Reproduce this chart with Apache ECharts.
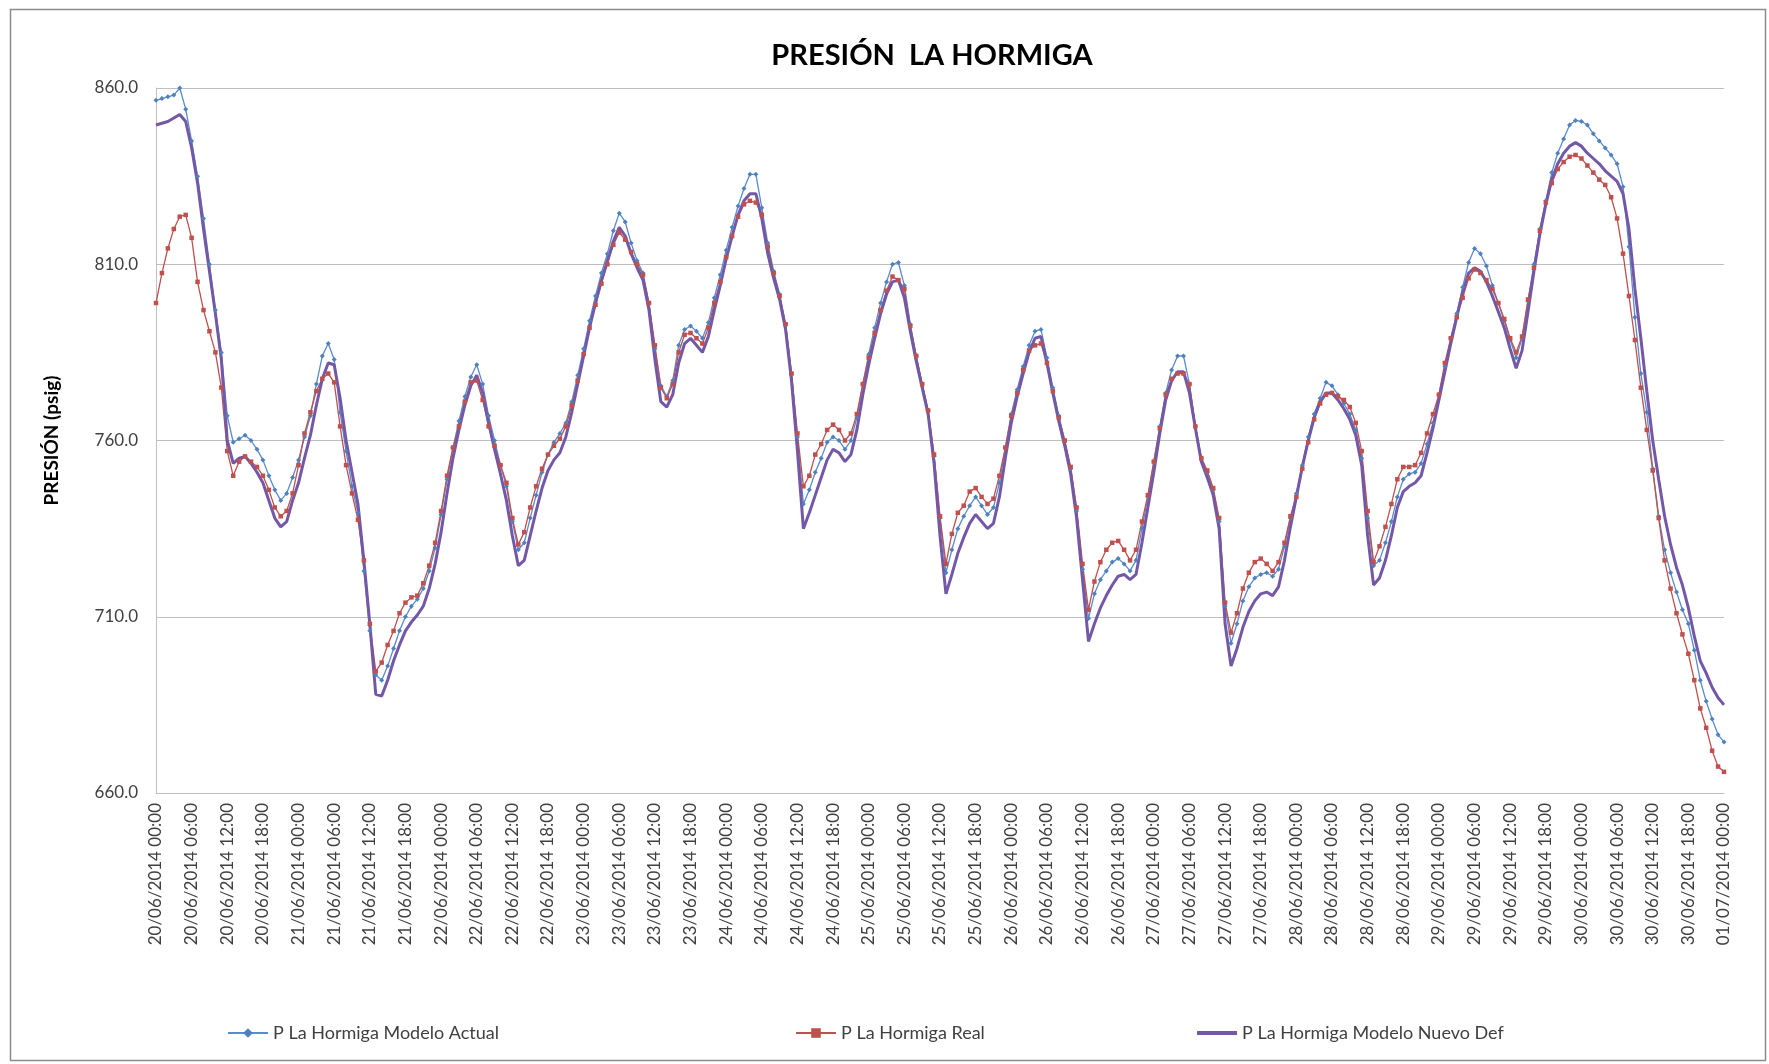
<!DOCTYPE html>
<html>
<head>
<meta charset="utf-8">
<script src="https://cdn.jsdelivr.net/npm/echarts@6/dist/echarts.min.js"></script>
<style>
html,body{margin:0;padding:0;background:#fff;}
#chart{width:1769px;height:1064px;}
</style>
</head>
<body>
<div id="chart"></div>
<script>
// Hourly readings 20/06/2014 00:00 .. 01/07/2014 00:00 (265 points)
const modeloActual = [
  856.5, 857, 857.5, 858, 860, 854, 845, 835, 823, 810, 797, 785, 767, 759.5, 760.5, 761.5, 760, 757.5, 754.5, 750, 746, 743, 745, 749.5,
  754.5, 761, 767, 776, 784, 787.5, 783, 768, 757, 747, 739.5, 723, 706, 693.5, 692, 696, 701, 706, 710, 713, 715, 718, 723, 729.5,
  739, 749, 758, 765.5, 772.5, 778, 781.5, 776, 767, 760, 753, 747, 737, 729, 731, 738, 744.5, 751, 756, 759.5, 762, 765, 771, 778.5,
  786, 794, 801, 807.5, 813, 819.5, 824.5, 822, 816, 811, 807.5, 799, 786, 775.5, 772.5, 777, 787, 791.5, 792.5, 791, 789, 793.5, 800.5, 807,
  814, 820.5, 826.5, 831.5, 835.5, 835.5, 826, 816, 808, 801.5, 793, 779, 761, 742, 746, 751, 755, 759.5, 761, 760, 757.5, 760, 766.5, 776,
  784.5, 792, 799, 805, 810, 810.5, 804, 793, 784, 776, 768.5, 755.5, 738, 722.5, 729, 735, 738.5, 741.5, 744, 741.5, 739, 741, 748, 758,
  767.5, 774.5, 781, 787, 791, 791.5, 783.5, 775, 767, 760, 752, 740, 723.5, 709.5, 716.5, 720.5, 723, 725.5, 726.5, 725, 723, 726, 735, 744,
  754, 764, 773.5, 780, 784, 784, 776, 764, 755, 751, 746, 737, 713, 702.5, 708, 714.5, 718.5, 721, 722, 722.5, 721.5, 723.5, 730, 738,
  745, 753, 761, 767.5, 772, 776.5, 775.5, 773, 770.5, 767.5, 763, 755, 738, 724.5, 726, 731, 737, 744, 749, 750.5, 751, 753.5, 759, 765,
  773, 781, 789, 796, 803.5, 810.5, 814.5, 813, 809.5, 804, 799, 794, 788.5, 783.5, 789, 799.5, 810, 820, 828, 836, 841.5, 845.5, 849.5, 850.8,
  850.5, 849.5, 847, 845, 843, 841, 838.5, 832, 815, 795, 779, 768, 752, 738.5, 729, 722.5, 717, 712, 708, 700.5, 692, 686, 681, 676.5,
  674.5
];
const real = [
  799, 807.5, 814.5, 820, 823.5, 824, 817.5, 805, 797, 791, 785, 775, 757, 750, 754, 755.5, 754, 752.5, 750, 746, 741, 738.5, 740, 745,
  753, 762, 768, 774, 777.5, 779, 776.5, 764, 753, 745, 737.5, 726, 708, 694.5, 697, 702, 706, 711, 714, 715.5, 716, 719.5, 724.5, 731,
  740, 750, 758, 764, 771, 776.5, 777, 771.5, 764, 758.5, 753, 748, 738, 730.5, 734, 741, 747, 752, 756, 758.5, 760.5, 764, 770, 777,
  784.5, 792, 798.5, 804.5, 810, 815.5, 819, 817, 813.5, 810, 807, 799, 787, 775, 772, 776, 785, 790, 790.5, 789, 787.5, 792, 799, 805,
  812, 818, 823.5, 827, 828, 827.5, 824, 815, 807.5, 801, 793, 779, 762, 747, 750, 756, 759, 763, 764.5, 763, 760, 762, 767.5, 776,
  783.5, 790.5, 797, 802.5, 806.5, 805.5, 803, 792.5, 784, 776, 768.5, 756, 738.5, 725, 733.5, 739.5, 741.5, 745.5, 746.5, 744, 742, 743.5, 750, 758,
  767, 773.5, 780, 785.5, 787, 787.5, 782, 774, 766.5, 760, 752.5, 741, 725, 712, 720, 725.5, 729, 731, 731.5, 729, 726, 729, 737, 744.5,
  754, 763.5, 773, 777.5, 779, 779, 776, 764, 755, 751.5, 746.5, 738, 714, 705.5, 711, 718, 722.5, 725.5, 726.5, 725, 723, 725.5, 731, 738.5,
  744, 752, 759.5, 766, 770.5, 773, 773.5, 772.5, 771.5, 769.5, 765, 757, 740, 725.5, 730, 735.5, 742, 749, 752.5, 752.5, 753, 756.5, 762, 767.5,
  773, 782, 789, 795, 800.5, 806, 808.5, 807.5, 805.5, 803, 799, 794.5, 789, 785, 789.5, 800, 809, 819.5, 827.5, 833, 837, 839, 840.5, 841,
  840, 838, 836, 834, 832.5, 829, 823, 813, 801, 788.5, 775, 763, 751.5, 738, 726, 718, 711, 705, 699.5, 692, 684, 678.5, 672, 667.5,
  666
];
const modeloNuevo = [
  849.5, 850, 850.5, 851.5, 852.5, 850.5, 843, 833, 820, 808, 796, 783, 760, 753.5, 755, 755.5, 753.5, 751, 748, 743, 738, 735.5, 737, 743,
  748, 755, 761.5, 770, 777.5, 782, 781.5, 772, 760, 751, 742, 726, 708, 688, 687.5, 692, 697.5, 702, 706, 708.5, 710.5, 713, 718, 725,
  734, 745, 755, 763, 770, 775.5, 778.5, 773.5, 765, 757.5, 750.5, 743, 733, 724.5, 726, 733, 740, 746.5, 751.5, 754.5, 756.5, 761, 768, 776,
  784, 792, 799, 805.5, 811, 816.5, 820.5, 818, 813, 809, 805.5, 797, 783, 771, 769.5, 773, 782, 787.5, 789, 787, 785, 789.5, 797, 804,
  811.5, 818, 824, 828, 830, 830, 823, 813, 806, 800, 791.5, 777, 757, 735, 739.5, 744.5, 749.5, 754.5, 757.5, 756.5, 754, 756, 763, 773,
  781.5, 789, 796, 801.5, 805, 805.5, 800.5, 791, 782.5, 775, 767.5, 753.5, 733, 716.5, 722, 728, 732.5, 736.5, 739, 737, 735, 736.5, 744, 755,
  765, 772.5, 779, 785, 789, 789.5, 782, 773.5, 765.5, 758.5, 750.5, 738, 720.5, 703, 708, 712.5, 716, 719, 721.5, 722, 720.5, 722, 731, 741,
  751, 762, 771.5, 777, 779.5, 779.5, 773.5, 763.5, 754, 749.5, 744.5, 735, 708, 696, 701, 707, 711.5, 714.5, 716.5, 717, 716, 718.5, 726, 735.5,
  744, 752.5, 760, 766.5, 771, 773.5, 773.5, 771.5, 769, 766, 761.5, 753, 733, 719, 721, 726, 733, 741, 745.5, 747, 748, 750, 756.5, 763.5,
  771.5, 779.5, 787.5, 795, 802, 807.5, 809, 808, 805, 801, 796.5, 792, 786, 780.5, 785.5, 796.5, 808, 818.5, 827, 834, 838.5, 841.5, 843.5, 844.5,
  843.5, 841.5, 840, 838.5, 836.5, 835, 833.5, 830, 820, 803, 789, 774, 760, 749, 738.5, 730.5, 724, 719, 712.5, 704.5, 697.5, 694, 690, 687,
  685
];
const seriesNames = ['P La Hormiga Modelo Actual', 'P La Hormiga Real', 'P La Hormiga Modelo Nuevo Def'];
const yTicks = [660, 710, 760, 810, 860];

// category labels: hourly timestamps
const categories = [];
(function () {
  const start = Date.UTC(2014, 5, 20, 0, 0);
  const pad = n => (n < 10 ? '0' : '') + n;
  for (let i = 0; i < modeloActual.length; i++) {
    const d = new Date(start + i * 3600000);
    categories.push(pad(d.getUTCDate()) + '/' + pad(d.getUTCMonth() + 1) + '/' + d.getUTCFullYear() + ' ' + pad(d.getUTCHours()) + ':00');
  }
})();

const chart = echarts.init(document.getElementById('chart'), null, { renderer: 'canvas' });
const txt = '#404040';
const FONT = 'Lato, "Open Sans", sans-serif';
const legendText = { fontFamily: FONT, fontSize: 18, color: txt };
chart.setOption({
  animation: false,
  backgroundColor: '#ffffff',
  title: {
    text: 'PRESIÓN  LA HORMIGA',
    left: 927, top: 36, textAlign: 'center',
    textStyle: { fontFamily: FONT, fontWeight: 'bold', fontSize: 29, color: '#000' }
  },
  graphic: [{
    type: 'rect', left: 8, top: 7, silent: true,
    shape: { width: 1755, height: 1051 },
    style: { fill: 'none', stroke: '#8c8c8c', lineWidth: 1.5 }
  }],
  legend: [
    { left: 222, top: 1019, itemWidth: 40, itemHeight: 12, data: [seriesNames[0]], textStyle: legendText },
    { left: 790, top: 1019, itemWidth: 40, itemHeight: 12, data: [seriesNames[1]], textStyle: legendText },
    { left: 1192, top: 1019, itemWidth: 40, itemHeight: 4, icon: 'rect', data: [seriesNames[2]], textStyle: legendText }
  ],
  grid: { left: 156, right: 45, top: 88, bottom: 271, containLabel: false },
  xAxis: {
    type: 'category',
    data: categories,
    boundaryGap: false,
    axisLine: { show: true, lineStyle: { color: '#bfbfbf', width: 1 } },
    axisTick: { show: false },
    axisLabel: {
      interval: 5, rotate: 90, margin: 10,
      fontFamily: FONT, fontSize: 17, color: txt
    },
    splitLine: { show: false }
  },
  yAxis: {
    type: 'value',
    min: yTicks[0], max: yTicks[yTicks.length - 1], interval: 50,
    name: 'PRESIÓN (psig)',
    nameLocation: 'middle', nameRotate: 90, nameGap: 95,
    nameTextStyle: { fontFamily: FONT, fontWeight: 'bold', fontSize: 19, color: '#000' },
    axisLine: { show: true, lineStyle: { color: '#bfbfbf', width: 1 } },
    axisTick: { show: false },
    axisLabel: {
      margin: 18, fontFamily: FONT, fontSize: 17, color: txt,
      formatter: v => v.toFixed(1)
    },
    splitLine: { show: true, lineStyle: { color: '#bfbfbf', width: 1 } }
  },
  series: [
    {
      name: seriesNames[0], type: 'line', data: modeloActual,
      symbol: 'diamond', symbolSize: 5, showAllSymbol: true,
      lineStyle: { color: '#5a8ad0', width: 1.3 },
      itemStyle: { color: '#4f81bd' }
    },
    {
      name: seriesNames[1], type: 'line', data: real,
      symbol: 'rect', symbolSize: 4.5, showAllSymbol: true,
      lineStyle: { color: '#c0504d', width: 1.3 },
      itemStyle: { color: '#c0504d' }
    },
    {
      name: seriesNames[2], type: 'line', data: modeloNuevo,
      symbol: 'none',
      lineStyle: { color: '#7358a8', width: 3 },
      itemStyle: { color: '#7358a8' }
    }
  ]
});
</script>
</body>
</html>
